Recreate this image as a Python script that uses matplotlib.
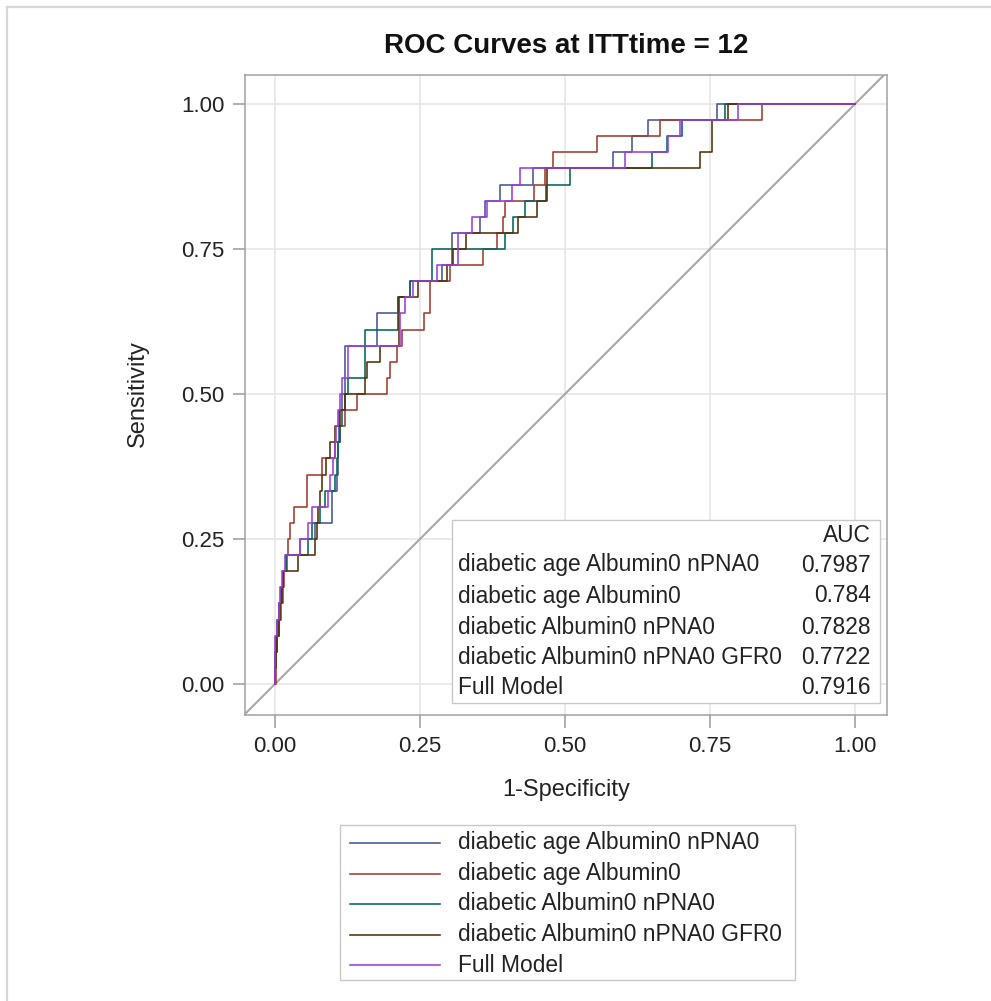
import numpy as np
import matplotlib
matplotlib.use('Agg')
import matplotlib.pyplot as plt
from matplotlib.lines import Line2D
from matplotlib.patches import Rectangle

plt.rcParams['font.family'] = ['Liberation Sans', 'DejaVu Sans']

# ---- data ----
models = ["diabetic age Albumin0 nPNA0", "diabetic age Albumin0",
          "diabetic Albumin0 nPNA0", "diabetic Albumin0 nPNA0 GFR0", "Full Model"]
auc_labels = ["0.7987", "0.784", "0.7828", "0.7722", "0.7916"]
n_events = 36
# 1-specificity at which each successive event is captured (one value per event)
fpr_m1 = [0, 0, 0.002, 0.005, 0.007, 0.010, 0.014, 0.021, 0.043, 0.069, 0.098, 0.098,
          0.107, 0.109, 0.109, 0.110, 0.110, 0.116, 0.121, 0.121, 0.121, 0.176, 0.176,
          0.212, 0.233, 0.288, 0.305, 0.305, 0.353, 0.362, 0.388, 0.445, 0.583, 0.616,
          0.643, 0.762]
fpr_m2 = [0.002, 0.002, 0.003, 0.007, 0.010, 0.014, 0.016, 0.019, 0.022, 0.026, 0.033,
          0.055, 0.055, 0.081, 0.103, 0.112, 0.121, 0.141, 0.193, 0.198, 0.210, 0.219,
          0.257, 0.267, 0.267, 0.302, 0.359, 0.383, 0.393, 0.397, 0.447, 0.466, 0.479,
          0.555, 0.664, 0.840]
fpr_m3 = [0, 0, 0.002, 0.003, 0.007, 0.010, 0.014, 0.019, 0.057, 0.064, 0.078, 0.086,
          0.103, 0.107, 0.109, 0.112, 0.116, 0.121, 0.126, 0.155, 0.155, 0.155, 0.212,
          0.212, 0.233, 0.271, 0.271, 0.397, 0.410, 0.431, 0.467, 0.509, 0.650, 0.676,
          0.702, 0.776]
fpr_m4 = [0, 0.002, 0.003, 0.007, 0.009, 0.012, 0.014, 0.040, 0.069, 0.072, 0.074, 0.078,
          0.081, 0.088, 0.095, 0.103, 0.112, 0.121, 0.155, 0.159, 0.181, 0.214, 0.214,
          0.214, 0.247, 0.297, 0.307, 0.329, 0.419, 0.452, 0.469, 0.469, 0.733, 0.753,
          0.753, 0.781]
fpr_m5 = [0, 0, 0, 0.003, 0.007, 0.009, 0.012, 0.017, 0.043, 0.057, 0.064, 0.091,
          0.095, 0.100, 0.103, 0.105, 0.109, 0.112, 0.116, 0.126, 0.126, 0.216, 0.216,
          0.224, 0.238, 0.279, 0.316, 0.316, 0.340, 0.366, 0.409, 0.422, 0.603, 0.678,
          0.698, 0.798]
tick_vals = [0.0, 0.25, 0.5, 0.75, 1.0]
tick_labels = ["0.00", "0.25", "0.50", "0.75", "1.00"]

colors = ['#445694', '#A23A2E', '#01665E', '#543005', '#9D3CDB']
all_fpr = [fpr_m1, fpr_m2, fpr_m3, fpr_m4, fpr_m5]


def roc_xy(rises, n):
    xs, ys = [0.0], [0.0]
    for i, r in enumerate(rises):
        xs += [r, r]
        ys += [i / n, (i + 1) / n]
    xs.append(1.0)
    ys.append(1.0)
    return xs, ys


W, H = 991, 1001
fig = plt.figure(figsize=(W / 100, H / 100), dpi=100)
fig.patch.set_facecolor('white')

# outer border (top and left)
fig.add_artist(Line2D([7 / W, 1.0], [1 - 7 / H, 1 - 7 / H], transform=fig.transFigure,
                      color='#d6d6d6', lw=1.6))
fig.add_artist(Line2D([7 / W, 7 / W], [0, 1 - 7 / H], transform=fig.transFigure,
                      color='#d6d6d6', lw=1.6))

ax = fig.add_axes([245 / W, 1 - 715 / H, 642 / W, 640 / H])
ax.set_xlim(-0.0517, 1.0552)
ax.set_ylim(-0.0534, 1.05)

ax.set_xticks(tick_vals)
ax.set_xticklabels(tick_labels)
ax.set_yticks(tick_vals)
ax.set_yticklabels(tick_labels)
ax.tick_params(axis='both', direction='out', length=9, width=1.1, color='#9a9a9a',
               labelsize=16, labelcolor='#222222', pad=6)
ax.grid(True, color='#e6e6e6', lw=1.2)
ax.set_axisbelow(True)
for sp in ax.spines.values():
    sp.set_color('#a0a0a0')
    sp.set_linewidth(1.1)

ax.axline((0, 0), (1, 1), color='#a8a8a8', lw=1.5, zorder=1)

for fpr, c in zip(all_fpr, colors):
    xs, ys = roc_xy(fpr, n_events)
    ax.plot(xs, ys, color=c, lw=1.15, zorder=3)

# AUC inset table
ax.add_patch(Rectangle(((452 - 245) / 642, (715 - 703) / 640), (880 - 452) / 642,
                       (703 - 520) / 640, transform=ax.transAxes, fill=True,
                       facecolor='white', edgecolor='#c8c8c8', lw=1.0, zorder=4))
xl = (458 - 245) / 642
xr = (871 - 245) / 642
ax.text(xr, (715 - 535) / 640, "AUC", transform=ax.transAxes, ha='right', va='center',
        fontsize=16.4, color='#222222', zorder=5)
row_y = [565, 596, 627, 657, 687]
for name, auc, py in zip(models, auc_labels, row_y):
    yy = (715 - py) / 640
    ax.text(xl, yy, name, transform=ax.transAxes, ha='left', va='center', fontsize=16.4,
            color='#222222', zorder=5)
    ax.text(xr, yy, auc, transform=ax.transAxes, ha='right', va='center', fontsize=16.4,
            color='#222222', zorder=5)

# titles / labels
fig.text(566 / W, 1 - 46 / H, "ROC Curves at ITTtime = 12", ha='center', va='center',
         fontsize=20, fontweight='bold', color='#111111')
fig.text(566 / W, 1 - 790 / H, "1-Specificity", ha='center', va='center', fontsize=17,
         color='#222222')
fig.text(138 / W, 1 - 394 / H, "Sensitivity", ha='center', va='center', fontsize=17,
         rotation=90, color='#222222')

# legend below
fig.add_artist(Rectangle((340 / W, 1 - 980 / H), 455 / W, 155 / H, transform=fig.transFigure,
                         fill=False, edgecolor='#c8c8c8', lw=1.0))
for i, (name, c) in enumerate(zip(models, colors)):
    py = 843 + i * 30.5
    fig.add_artist(Line2D([350 / W, 440 / W], [1 - py / H, 1 - py / H],
                          transform=fig.transFigure, color=c, lw=1.15))
    fig.text(458 / W, 1 - py / H, name, ha='left', va='center', fontsize=16.4,
             color='#222222')

fig.savefig('out.png', dpi=100)
